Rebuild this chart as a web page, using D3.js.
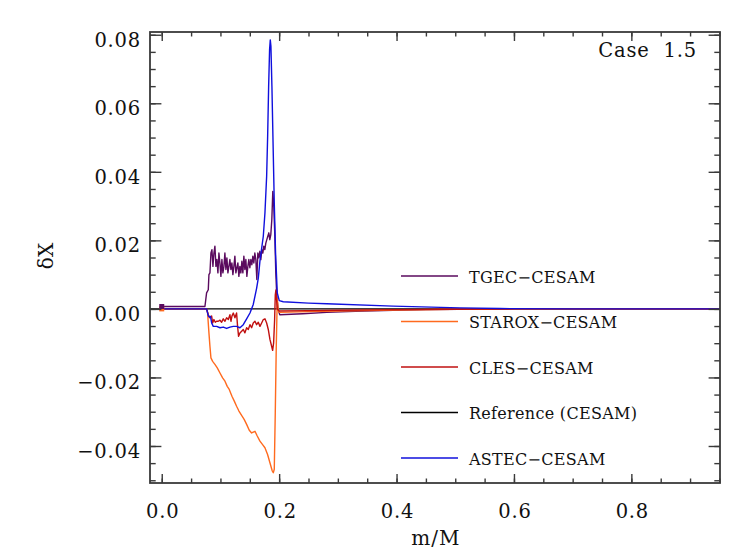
<!DOCTYPE html>
<html>
<head>
<meta charset="utf-8">
<script src="https://cdn.jsdelivr.net/npm/d3@7"></script>
<style>
  body { margin: 0; background: #fff; }
  text { font-family: "DejaVu Serif", serif; fill: #111; }
</style>
</head>
<body>
<script>
// data: [m/M, deltaX]
const tgec = [
  [0, 0.0007], [0.0736, 0.0007], [0.0764, 0.0047], [0.0793, 0.0056], [0.0804, 0.0100],
  [0.0821, 0.0105], [0.0838, 0.0163], [0.0855, 0.0173], [0.0872, 0.0124], [0.0889, 0.0163],
  [0.0906, 0.0183], [0.0923, 0.0124], [0.0940, 0.0144], [0.0957, 0.0105], [0.0974, 0.0163],
  [0.0991, 0.0134], [0.1008, 0.0095], [0.1025, 0.0144], [0.1042, 0.0105], [0.1059, 0.0124],
  [0.1076, 0.0163], [0.1093, 0.0115], [0.1110, 0.0149], [0.1127, 0.0105], [0.1144, 0.0124],
  [0.1161, 0.0144], [0.1178, 0.0115], [0.1195, 0.0134], [0.1212, 0.0100], [0.1229, 0.0124],
  [0.1246, 0.0154], [0.1263, 0.0105], [0.1280, 0.0120], [0.1297, 0.0134], [0.1314, 0.0095],
  [0.1331, 0.0124], [0.1348, 0.0105], [0.1365, 0.0139], [0.1382, 0.0105], [0.1399, 0.0154],
  [0.1416, 0.0115], [0.1433, 0.0144], [0.1450, 0.0095], [0.1467, 0.0124], [0.1484, 0.0144],
  [0.1501, 0.0120], [0.1518, 0.0144], [0.1535, 0.0129], [0.1552, 0.0154], [0.1569, 0.0134],
  [0.1586, 0.0163], [0.1603, 0.0144], [0.1620, 0.0086], [0.1637, 0.0163], [0.1654, 0.0149],
  [0.1671, 0.0168], [0.1688, 0.0144], [0.1705, 0.0173], [0.1722, 0.0163], [0.1739, 0.0183],
  [0.1756, 0.0173], [0.1773, 0.0192], [0.1790, 0.0202], [0.1807, 0.0212], [0.1824, 0.0222],
  [0.1841, 0.0202], [0.1858, 0.0217], [0.1875, 0.0260], [0.1892, 0.0343], [0.1909, 0.0299],
  [0.1926, 0.0217], [0.1943, 0.0105], [0.1960, 0.0037], [0.1983, -0.0002], [0.2011, -0.0017],
  [0.24, -0.0014], [0.281, -0.0010], [0.33, -0.0007], [0.394, -0.0004], [0.45, -0.0002],
  [0.508, -0.0001], [0.6, 0], [0.95, 0]
];

const starox = [
  [0, 0], [0.0765, 0], [0.0781, -0.0012], [0.0804, -0.0070], [0.0821, -0.0109], [0.0838, -0.0143],
  [0.0867, -0.0153], [0.0906, -0.0162], [0.0946, -0.0172], [0.0992, -0.0187], [0.1037, -0.0201],
  [0.1077, -0.0211], [0.1116, -0.0226], [0.1150, -0.0235], [0.1196, -0.0255], [0.1236, -0.0269],
  [0.1275, -0.0284], [0.1315, -0.0298], [0.1361, -0.0311], [0.1406, -0.0323], [0.1446, -0.0337],
  [0.1491, -0.0354], [0.1531, -0.0362], [0.1588, -0.0357], [0.1627, -0.0371], [0.1673, -0.0386],
  [0.1718, -0.0396], [0.1758, -0.0405], [0.1803, -0.0425], [0.1843, -0.0449], [0.1883, -0.0473],
  [0.1900, -0.0478], [0.1917, -0.0468], [0.1934, -0.0303], [0.1951, -0.0109], [0.1968, 0.0030],
  [0.1985, -0.0005], [0.2002, -0.0010], [0.25, -0.0008], [0.3, -0.0006], [0.4, -0.0003],
  [0.5, -0.0001], [0.6, 0], [0.95, 0]
];

const cles = [
  [0, 0], [0.0765, 0], [0.0793, -0.0017], [0.0821, -0.0026], [0.0850, -0.0021], [0.0867, -0.0041],
  [0.0889, -0.0031], [0.0912, -0.0039], [0.0935, -0.0036], [0.0963, -0.0036], [0.0992, -0.0033],
  [0.1020, -0.0039], [0.1048, -0.0029], [0.1077, -0.0036], [0.1105, -0.0026], [0.1134, -0.0031],
  [0.1162, -0.0017], [0.1179, -0.0036], [0.1196, -0.0021], [0.1219, -0.0012], [0.1247, -0.0026],
  [0.1275, -0.0012], [0.1292, -0.0051], [0.1309, -0.0080], [0.1332, -0.0070], [0.1361, -0.0065],
  [0.1389, -0.0060], [0.1417, -0.0070], [0.1446, -0.0055], [0.1474, -0.0060], [0.1503, -0.0046],
  [0.1531, -0.0055], [0.1559, -0.0041], [0.1588, -0.0036], [0.1616, -0.0046], [0.1645, -0.0039],
  [0.1673, -0.0051], [0.1702, -0.0041], [0.1730, -0.0031], [0.1758, -0.0029], [0.1787, -0.0041],
  [0.1815, -0.0060], [0.1843, -0.0089], [0.1872, -0.0109], [0.1889, -0.0121], [0.1906, -0.0099],
  [0.1923, -0.0031], [0.1934, 0.0040], [0.1945, 0.0055], [0.1968, 0.0000], [0.2002, -0.0006],
  [0.25, -0.0005], [0.3, -0.0004], [0.4, -0.0002], [0.5, -0.0001], [0.6, 0], [0.95, 0]
];

const reference = [[-0.02, 0], [0.95, 0]];

const astec = [
  [0, 0], [0.0764, 0], [0.0793, -0.0020], [0.0810, -0.0024], [0.0830, -0.0022], [0.0850, -0.0041],
  [0.0878, -0.0051], [0.0935, -0.0051], [0.0992, -0.0055], [0.1048, -0.0053], [0.1105, -0.0057],
  [0.1162, -0.0053], [0.1219, -0.0051], [0.1275, -0.0051], [0.1332, -0.0055], [0.1389, -0.0046],
  [0.1446, -0.0029], [0.1503, -0.0012], [0.1559, 0.0013], [0.1616, 0.0060], [0.1645, 0.0090],
  [0.1673, 0.0140], [0.1730, 0.0212], [0.1758, 0.0280], [0.1787, 0.0387], [0.1804, 0.0503],
  [0.1821, 0.0649], [0.1837, 0.0756], [0.1849, 0.0785], [0.1860, 0.0766], [0.1877, 0.0649],
  [0.1894, 0.0503], [0.1917, 0.0309], [0.1939, 0.0163], [0.1968, 0.0047], [0.2002, 0.0024],
  [0.2070, 0.0021], [0.25, 0.0017], [0.281, 0.0015], [0.394, 0.0008], [0.508, 0.0003],
  [0.576, 0.0001], [0.7, 0], [0.95, 0]
];

const seriesNames = ["TGEC\u2212CESAM", "STAROX\u2212CESAM", "CLES\u2212CESAM", "Reference (CESAM)", "ASTEC\u2212CESAM"];
const seriesColors = ["#5a0a5e", "#ff6a1e", "#c01010", "#000000", "#1010dd"];
const seriesData = [tgec, starox, cles, reference, astec];

const xTicks = [0, 0.2, 0.4, 0.6, 0.8];
const yTicks = [-0.04, -0.02, 0, 0.02, 0.04, 0.06, 0.08];

const svgWidth = 747;
const svgHeight = 550;
const margin = { top: 32, right: 27, bottom: 67, left: 150 };
const width = svgWidth - margin.left - margin.right;
const height = svgHeight - margin.top - margin.bottom;

const svg = d3.select("body").append("svg")
  .attr("width", svgWidth)
  .attr("height", svgHeight);

const g = svg.append("g").attr("transform", `translate(${margin.left},${margin.top})`);

const xScale = d3.scaleLinear().domain([-0.02, 0.951]).range([0, width]);
const yScale = d3.scaleLinear().domain([-0.0508, 0.0808]).range([height, 0]);

// minor ticks every 0.05 (x) and 0.005 (y)
const xMinor = d3.range(0, 0.951, 0.05);
const yMinor = d3.range(-0.05, 0.0809, 0.005);

const axisColor = "#3a3a3a";

// lines
const line = d3.line()
  .x((d) => xScale(d[0]))
  .y((d) => yScale(d[1]));

const order = [3, 0, 1, 2, 4];
order.forEach((i) => {
  g.append("path")
    .datum(seriesData[i])
    .attr("d", line)
    .attr("fill", "none")
    .attr("stroke", seriesColors[i])
    .attr("stroke-width", 1.4)
    .attr("stroke-linejoin", "round");
});

// first points marked at m=0
g.selectAll(".start-dot")
  .data([[starox[0], seriesColors[1]], [tgec[0], seriesColors[0]]])
  .enter()
  .append("rect")
  .attr("x", (d) => xScale(d[0][0]) - 2.5)
  .attr("y", (d) => yScale(d[0][1]) - 2.5)
  .attr("width", 5)
  .attr("height", 5)
  .attr("fill", (d) => d[1]);

// axes on four sides, ticks pointing in
const axBottom = g.append("g").attr("transform", `translate(0,${height})`)
  .call(d3.axisTop(xScale).tickValues(xMinor).tickSize(4.5).tickFormat(""));
axBottom.append("g")
  .call(d3.axisTop(xScale).tickValues(xTicks).tickSize(9).tickFormat(""));
const axTop = g.append("g")
  .call(d3.axisBottom(xScale).tickValues(xMinor).tickSize(4.5).tickFormat(""));
axTop.append("g")
  .call(d3.axisBottom(xScale).tickValues(xTicks).tickSize(9).tickFormat(""));
const axLeft = g.append("g")
  .call(d3.axisRight(yScale).tickValues(yMinor).tickSize(5.7).tickFormat(""));
axLeft.append("g")
  .call(d3.axisRight(yScale).tickValues(yTicks).tickSize(11.4).tickFormat(""));
const axRight = g.append("g").attr("transform", `translate(${width},0)`)
  .call(d3.axisLeft(yScale).tickValues(yMinor).tickSize(5.7).tickFormat(""));
axRight.append("g")
  .call(d3.axisLeft(yScale).tickValues(yTicks).tickSize(11.4).tickFormat(""));

g.selectAll(".domain").attr("stroke", "none");
g.selectAll(".tick line").attr("stroke", axisColor).attr("stroke-width", 1.4);

g.append("rect")
  .attr("width", width)
  .attr("height", height)
  .attr("fill", "none")
  .attr("stroke", axisColor)
  .attr("stroke-width", 1.8);

// tick labels
g.selectAll(".xlab")
  .data(xTicks)
  .enter()
  .append("text")
  .attr("x", (d) => xScale(d) + 1)
  .attr("y", height + 35)
  .attr("text-anchor", "middle")
  .style("font-size", "19.5px")
  .style("letter-spacing", "0.8px")
  .text(d3.format(".1f"));

g.selectAll(".ylab")
  .data(yTicks)
  .enter()
  .append("text")
  .attr("x", -9)
  .attr("y", (d) => yScale(d) + 12)
  .attr("text-anchor", "end")
  .style("font-size", "19.5px")
  .style("letter-spacing", "0.8px")
  .text(d3.format(".2f"));

// axis titles
svg.append("text")
  .attr("x", margin.left + xScale(0.467))
  .attr("y", 545)
  .attr("text-anchor", "middle")
  .style("font-size", "20px")
  .style("letter-spacing", "1px")
  .text("m/M");

svg.append("text")
  .attr("transform", "translate(53,256) rotate(-90)")
  .attr("text-anchor", "middle")
  .style("font-size", "20px")
  .text("\u03b4X");

svg.append("text")
  .attr("x", 697)
  .attr("y", 57)
  .attr("text-anchor", "end")
  .style("font-size", "19.5px")
  .style("letter-spacing", "0.8px")
  .text("Case\u00a0 1.5");

// legend
const legend = svg.append("g");
const legendY = d3.scaleLinear().domain([0, 4]).range([276, 458]);
seriesNames.forEach((name, i) => {
  legend.append("line")
    .attr("x1", 401).attr("x2", 458)
    .attr("y1", legendY(i)).attr("y2", legendY(i))
    .attr("stroke", seriesColors[i])
    .attr("stroke-width", 1.4);
  legend.append("text")
    .attr("x", 469)
    .attr("y", legendY(i) + 6.5)
    .style("font-size", "16px")
    .style("letter-spacing", "0.3px")
    .text(name);
});
</script>
</body>
</html>
